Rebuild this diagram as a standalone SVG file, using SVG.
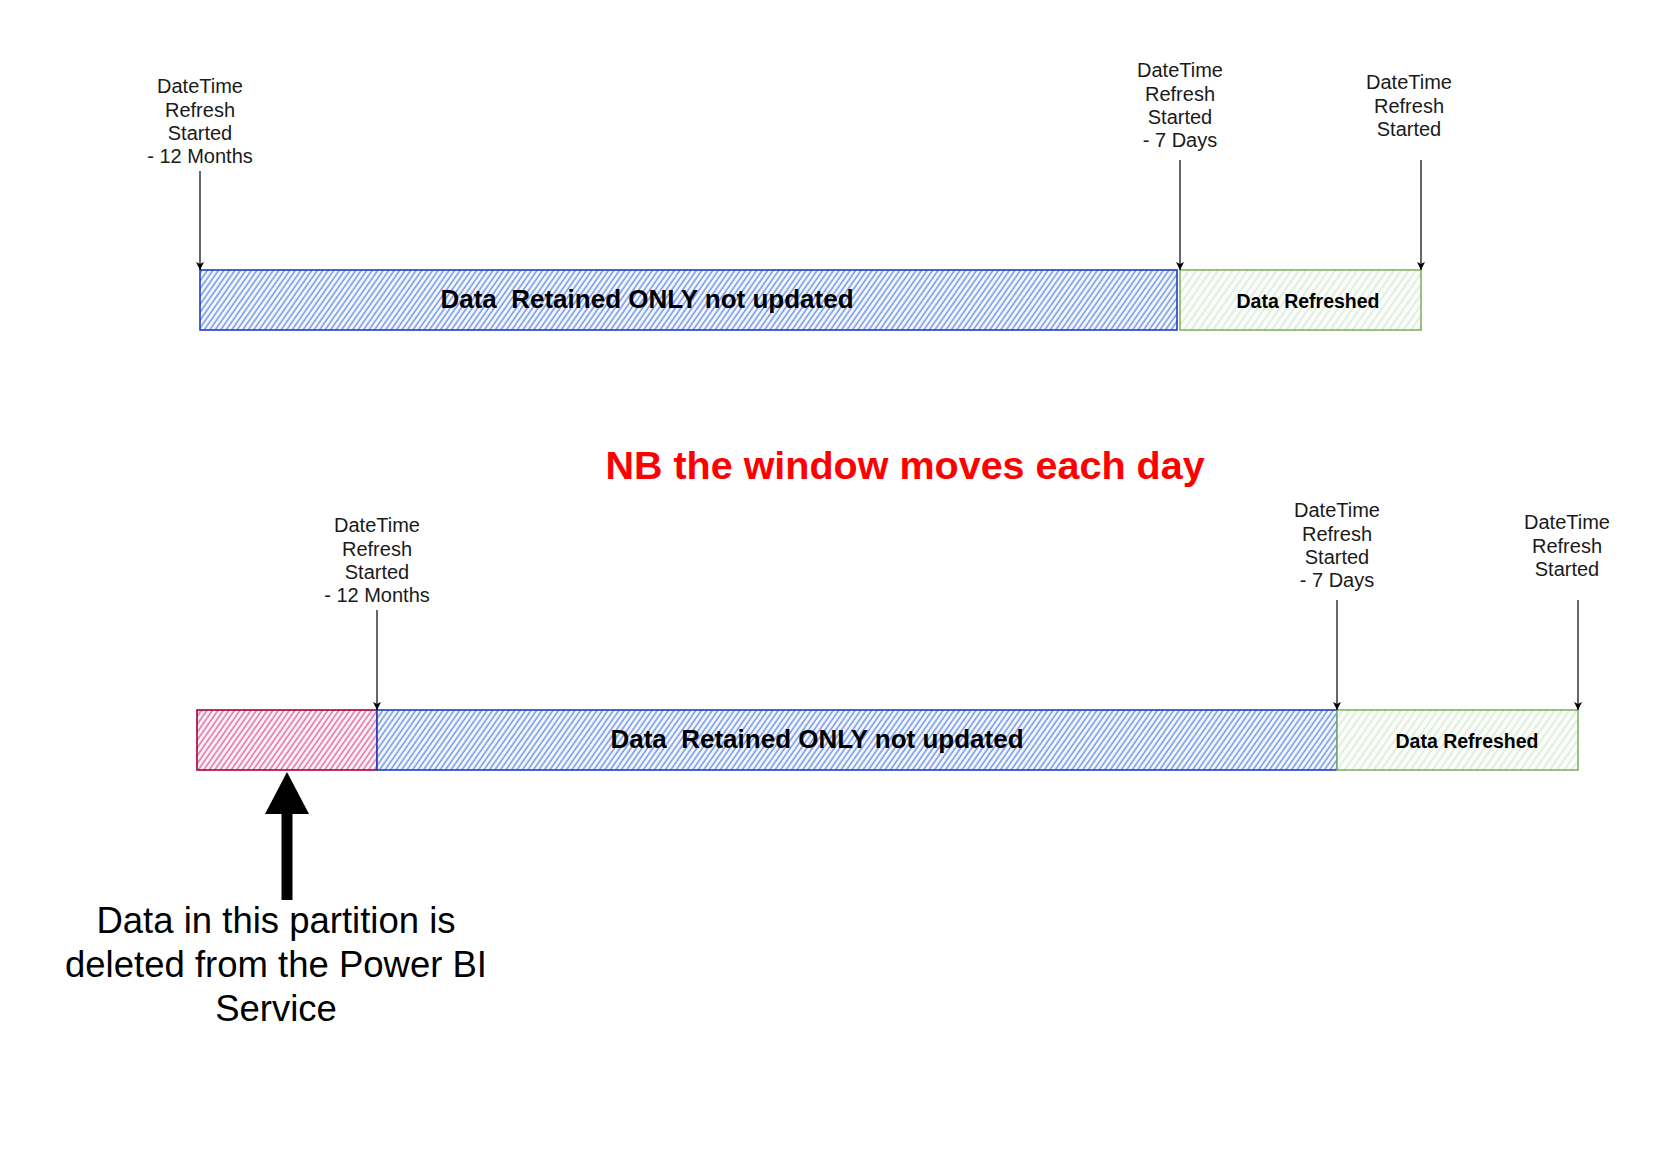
<svg xmlns="http://www.w3.org/2000/svg" width="1654" height="1169" viewBox="0 0 1654 1169">
<style>
.lbl{font-family:"Liberation Sans",Arial,sans-serif;font-size:20px;fill:#1a1a1a;text-anchor:middle}
.bar{font-family:"Liberation Sans",Arial,sans-serif;font-weight:bold;fill:#000;text-anchor:middle;white-space:pre}
.conn{stroke:#000;stroke-width:1.2;fill:none}
</style>
<defs>
<pattern id="hBlue" patternUnits="userSpaceOnUse" width="4.5" height="10" patternTransform="rotate(35)">
<rect width="4.5" height="10" fill="#f4f7fe"/>
<line x1="1" y1="0" x2="1" y2="10" stroke="#6088e6" stroke-width="1.3"/>
</pattern>
<pattern id="hPink" patternUnits="userSpaceOnUse" width="4.5" height="10" patternTransform="rotate(35)">
<rect width="4.5" height="10" fill="#fdf3f8"/>
<line x1="1" y1="0" x2="1" y2="10" stroke="#de5c99" stroke-width="1.3"/>
</pattern>
<pattern id="hGreen" patternUnits="userSpaceOnUse" width="6" height="10" patternTransform="rotate(35)">
<rect width="6" height="10" fill="#fbfdfa"/>
<line x1="1" y1="0" x2="1" y2="10" stroke="#dcebd9" stroke-width="1.6"/>
</pattern>
<marker id="arr" markerWidth="10" markerHeight="10" refX="8" refY="5" orient="auto" markerUnits="userSpaceOnUse">
<path d="M0,1 L8,5 L0,9 L2,5 Z" fill="#000"/>
</marker>
</defs>

<g id="top-retained">
<rect x="200" y="270" width="977" height="60" fill="url(#hBlue)" stroke="#1f3fc4" stroke-width="1.6"/>
<text class="bar" x="647" y="308" font-size="26" xml:space="preserve">Data  Retained ONLY not updated</text>
</g>
<g id="top-refreshed">
<rect x="1180" y="270" width="241" height="60" fill="url(#hGreen)" stroke="#82b366" stroke-width="1.6"/>
<text class="bar" x="1308" y="308" font-size="19.5">Data Refreshed</text>
</g>
<g id="top-label-12m">
<text class="lbl" x="200" y="93">DateTime</text>
<text class="lbl" x="200" y="116.5">Refresh</text>
<text class="lbl" x="200" y="140">Started</text>
<text class="lbl" x="200" y="163">- 12 Months</text>
</g>
<g id="top-label-7d">
<text class="lbl" x="1180" y="77">DateTime</text>
<text class="lbl" x="1180" y="100.5">Refresh</text>
<text class="lbl" x="1180" y="124">Started</text>
<text class="lbl" x="1180" y="147">- 7 Days</text>
</g>
<g id="top-label-now">
<text class="lbl" x="1409" y="89">DateTime</text>
<text class="lbl" x="1409" y="112.5">Refresh</text>
<text class="lbl" x="1409" y="136">Started</text>
</g>

<g id="note">
<text x="905" y="479" font-family="Liberation Sans,Arial,sans-serif" font-weight="bold" font-size="39.5" fill="#ff0000" text-anchor="middle">NB the window moves each day</text>
</g>

<g id="bottom-deleted">
<rect x="197" y="710" width="180" height="60" fill="url(#hPink)" stroke="#A50040" stroke-width="1.6"/>
</g>
<g id="bottom-retained">
<rect x="377" y="710" width="960" height="60" fill="url(#hBlue)" stroke="#1f3fc4" stroke-width="1.6"/>
<text class="bar" x="817" y="748" font-size="26" xml:space="preserve">Data  Retained ONLY not updated</text>
</g>
<g id="bottom-refreshed">
<rect x="1337" y="710" width="241" height="60" fill="url(#hGreen)" stroke="#82b366" stroke-width="1.6"/>
<text class="bar" x="1467" y="748" font-size="19.5">Data Refreshed</text>
</g>
<g id="bottom-label-12m">
<text class="lbl" x="377" y="532">DateTime</text>
<text class="lbl" x="377" y="555.5">Refresh</text>
<text class="lbl" x="377" y="579">Started</text>
<text class="lbl" x="377" y="602">- 12 Months</text>
</g>
<g id="bottom-label-7d">
<text class="lbl" x="1337" y="517">DateTime</text>
<text class="lbl" x="1337" y="540.5">Refresh</text>
<text class="lbl" x="1337" y="564">Started</text>
<text class="lbl" x="1337" y="587">- 7 Days</text>
</g>
<g id="bottom-label-now">
<text class="lbl" x="1567" y="529">DateTime</text>
<text class="lbl" x="1567" y="552.5">Refresh</text>
<text class="lbl" x="1567" y="576">Started</text>
</g>

<g id="deleted-note">
<text x="276" y="933" font-family="Liberation Sans,Arial,sans-serif" font-size="36.5" fill="#000" text-anchor="middle">Data in this partition is</text>
<text x="276" y="977" font-family="Liberation Sans,Arial,sans-serif" font-size="36.5" fill="#000" text-anchor="middle">deleted from the Power BI</text>
<text x="276" y="1021" font-family="Liberation Sans,Arial,sans-serif" font-size="36.5" fill="#000" text-anchor="middle">Service</text>
</g>

<g id="connectors">
<line class="conn" x1="200" y1="171" x2="200" y2="270" marker-end="url(#arr)"/>
<line class="conn" x1="1180" y1="160" x2="1180" y2="270" marker-end="url(#arr)"/>
<line class="conn" x1="1421" y1="160" x2="1421" y2="270" marker-end="url(#arr)"/>
<line class="conn" x1="377" y1="610" x2="377" y2="710" marker-end="url(#arr)"/>
<line class="conn" x1="1337" y1="600" x2="1337" y2="710" marker-end="url(#arr)"/>
<line class="conn" x1="1578" y1="600" x2="1578" y2="710" marker-end="url(#arr)"/>
<g id="big-arrow">
<line x1="287" y1="900" x2="287" y2="810" stroke="#000" stroke-width="11"/>
<path d="M287,772 L309,814 L265,814 Z" fill="#000"/>
</g>
</g>
</svg>
